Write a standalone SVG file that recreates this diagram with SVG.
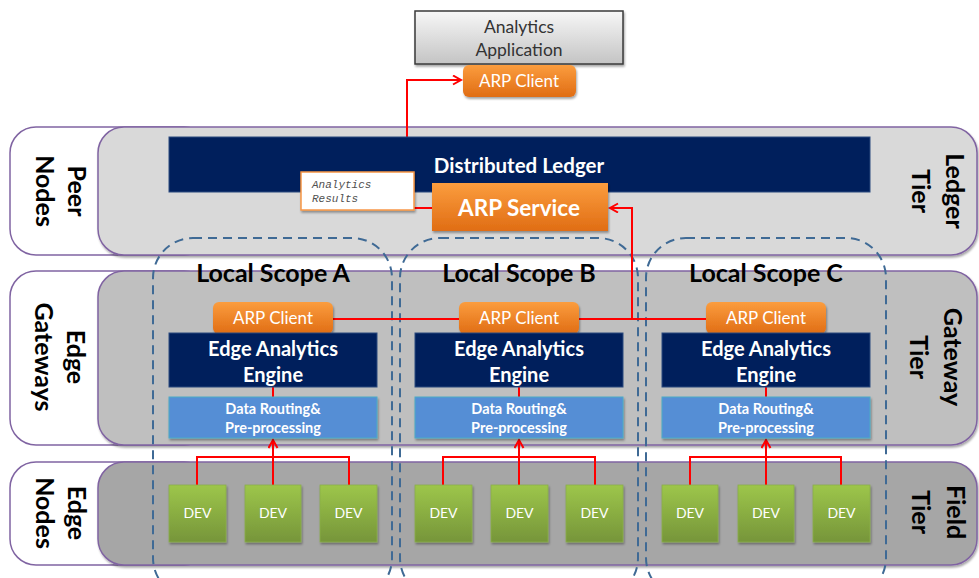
<svg xmlns="http://www.w3.org/2000/svg" width="979" height="578" viewBox="0 0 979 578">
<defs>
<linearGradient id="gOrange" x1="0" y1="0" x2="0" y2="1"><stop offset="0" stop-color="#fb9d3e"/><stop offset="1" stop-color="#e06d14"/></linearGradient>
<linearGradient id="gGreen" x1="0" y1="0" x2="0" y2="1"><stop offset="0" stop-color="#9dc64a"/><stop offset="1" stop-color="#76953a"/></linearGradient>
<linearGradient id="gGray" x1="0" y1="0" x2="0" y2="1"><stop offset="0" stop-color="#f7f7f7"/><stop offset="1" stop-color="#c4c4c4"/></linearGradient>
<filter id="sh" x="-10%" y="-10%" width="120%" height="130%"><feDropShadow dx="1" dy="2" stdDeviation="1.2" flood-color="#000" flood-opacity="0.35"/></filter>
<marker id="arr" markerUnits="userSpaceOnUse" markerWidth="12" markerHeight="12" refX="9" refY="5" orient="auto"><path d="M1,0.5 L9,5 L1,9.5" fill="none" stroke="#ff0000" stroke-width="2"/></marker>
</defs>
<style>
.outer{fill:#ffffff;stroke:#8064a2;stroke-width:1.5}
.tier{stroke:#8064a2;stroke-width:1.5}
.lbl{font-family:Lato,"Liberation Sans",sans-serif;font-weight:bold;font-size:25px;fill:#000;text-anchor:middle}
.scope{fill:none;stroke:#3f6a95;stroke-width:2;stroke-dasharray:9 6}
.scopeT{font-family:Lato,"Liberation Sans",sans-serif;font-weight:bold;font-size:25px;fill:#000;text-anchor:middle}
.navy{fill:#001f5c;stroke:#2a4a7f;stroke-width:1}
.wb{font-family:Lato,"Liberation Sans",sans-serif;font-weight:bold;fill:#fff;text-anchor:middle}
.wr{font-family:Lato,"Liberation Sans",sans-serif;fill:#fff;text-anchor:middle}
.orange{fill:url(#gOrange);filter:url(#sh)}
.route{fill:#558ed5;stroke:#4bacc6;stroke-width:1;filter:url(#sh)}
.dev{fill:url(#gGreen);stroke:#8aae4a;stroke-width:0.8;filter:url(#sh)}
.red{fill:none;stroke:#ff0000;stroke-width:2}
</style>

<!-- Tiers -->
<g id="ledger-tier">
<rect class="outer" x="10" y="127" width="200" height="128" rx="26"/>
<rect class="tier" x="98" y="127" width="879" height="128" rx="26" fill="#d9d9d9" filter="url(#sh)"/>
<g transform="translate(60,191) rotate(90)"><text class="lbl" x="0" y="-8">Peer</text><text class="lbl" x="0" y="24">Nodes</text></g>
<g transform="translate(937,191) rotate(90)"><text class="lbl" x="0" y="-9">Ledger</text><text class="lbl" x="0" y="25">Tier</text></g>
</g>
<g id="gateway-tier">
<rect class="outer" x="10" y="271" width="200" height="174" rx="26"/>
<rect class="tier" x="98" y="271" width="879" height="174" rx="26" fill="#bfbfbf" filter="url(#sh)"/>
<g transform="translate(59,357) rotate(90)"><text class="lbl" x="0" y="-8">Edge</text><text class="lbl" x="0" y="24">Gateways</text></g>
<g transform="translate(935,357) rotate(90)"><text class="lbl" x="0" y="-9">Gateway</text><text class="lbl" x="0" y="25">Tier</text></g>
</g>
<g id="field-tier">
<rect class="outer" x="10" y="462" width="200" height="103" rx="26"/>
<rect class="tier" x="98" y="462" width="879" height="103" rx="26" fill="#a6a6a6" filter="url(#sh)"/>
<g transform="translate(60,513) rotate(90)"><text class="lbl" x="0" y="-8">Edge</text><text class="lbl" x="0" y="24">Nodes</text></g>
<g transform="translate(937,512) rotate(90)"><text class="lbl" x="0" y="-10">Field</text><text class="lbl" x="0" y="25">Tier</text></g>
</g>

<!-- Local scopes -->
<g id="scope-a"><rect class="scope" x="153" y="238" width="239" height="360" rx="40"/><text class="scopeT" x="273" y="282">Local Scope A</text></g>
<g id="scope-b"><rect class="scope" x="400" y="238" width="238" height="360" rx="40"/><text class="scopeT" x="519" y="282">Local Scope B</text></g>
<g id="scope-c"><rect class="scope" x="646" y="238" width="240" height="360" rx="40"/><text class="scopeT" x="766" y="282">Local Scope C</text></g>

<!-- Connectors -->
<g id="connectors">
<path class="red" d="M407,172 V80 H461" marker-end="url(#arr)"/>
<path class="red" d="M414,208 H432"/>
<path class="red" d="M333,319 H706"/>
<path class="red" d="M632,319 V208 H610" marker-end="url(#arr)"/>
<path class="red" d="M273,387 V397 M519,387 V397 M766,387 V397"/>
<path class="red" d="M197,485 V457 H349 V485"/>
<path class="red" d="M273,485 V440" marker-end="url(#arr)"/>
<path class="red" d="M443,485 V457 H595 V485"/>
<path class="red" d="M519,485 V440" marker-end="url(#arr)"/>
<path class="red" d="M690,485 V457 H841 V485"/>
<path class="red" d="M766,485 V440" marker-end="url(#arr)"/>
</g>

<!-- Top -->
<g id="analytics-app">
<rect x="415" y="11" width="208" height="53" fill="url(#gGray)" stroke="#3a3a3a" stroke-width="1.5" filter="url(#sh)"/>
<text x="519" y="33" font-family="Lato,'Liberation Sans',sans-serif" font-size="17.5" fill="#333" text-anchor="middle">Analytics</text>
<text x="519" y="56" font-family="Lato,'Liberation Sans',sans-serif" font-size="17.5" fill="#333" text-anchor="middle">Application</text>
</g>
<g id="arp-client-top">
<rect class="orange" x="463" y="65" width="113" height="32" rx="6"/>
<text class="wr" x="519" y="87" font-size="17">ARP Client</text>
</g>

<!-- Ledger -->
<g id="distributed-ledger">
<rect class="navy" x="169" y="137" width="701" height="55"/>
<text class="wb" x="519" y="173" font-size="20.5">Distributed Ledger</text>
</g>
<g id="arp-service">
<rect class="orange" x="432" y="183" width="176" height="48"/>
<text class="wb" x="519" y="216" font-size="22.5">ARP Service</text>
</g>
<g id="analytics-results">
<rect x="301" y="172" width="113" height="38" fill="#fff" stroke="#f79646" stroke-width="1.5" filter="url(#sh)"/>
<text x="312" y="188" font-family="'Liberation Mono',monospace" font-style="italic" font-size="11" fill="#505050">Analytics</text>
<text x="312" y="202" font-family="'Liberation Mono',monospace" font-style="italic" font-size="11" fill="#505050">Results</text>
</g>

<!-- Gateway nodes -->
<g id="arp-client-a"><rect class="orange" x="213" y="302" width="120" height="32" rx="6"/><text class="wr" x="273" y="324" font-size="17">ARP Client</text></g>
<g id="arp-client-b"><rect class="orange" x="459" y="302" width="120" height="32" rx="6"/><text class="wr" x="519" y="324" font-size="17">ARP Client</text></g>
<g id="arp-client-c"><rect class="orange" x="706" y="302" width="120" height="32" rx="6"/><text class="wr" x="766" y="324" font-size="17">ARP Client</text></g>

<g id="engine-a"><rect class="navy" x="169" y="333" width="208" height="54"/><text class="wb" x="273" y="356" font-size="20">Edge Analytics</text><text class="wb" x="273" y="382" font-size="20">Engine</text></g>
<g id="engine-b"><rect class="navy" x="415" y="333" width="208" height="54"/><text class="wb" x="519" y="356" font-size="20">Edge Analytics</text><text class="wb" x="519" y="382" font-size="20">Engine</text></g>
<g id="engine-c"><rect class="navy" x="662" y="333" width="208" height="54"/><text class="wb" x="766" y="356" font-size="20">Edge Analytics</text><text class="wb" x="766" y="382" font-size="20">Engine</text></g>

<g id="routing-a"><rect class="route" x="169" y="397" width="208" height="41"/><text class="wb" x="273" y="414" font-size="14.5">Data Routing&amp;</text><text class="wb" x="273" y="433" font-size="14.5">Pre-processing</text></g>
<g id="routing-b"><rect class="route" x="415" y="397" width="208" height="41"/><text class="wb" x="519" y="414" font-size="14.5">Data Routing&amp;</text><text class="wb" x="519" y="433" font-size="14.5">Pre-processing</text></g>
<g id="routing-c"><rect class="route" x="662" y="397" width="208" height="41"/><text class="wb" x="766" y="414" font-size="14.5">Data Routing&amp;</text><text class="wb" x="766" y="433" font-size="14.5">Pre-processing</text></g>

<!-- Devices -->
<g id="dev-a1"><rect class="dev" x="169" y="485" width="57" height="57"/><text class="wr" x="197.5" y="518" font-size="14">DEV</text></g>
<g id="dev-a2"><rect class="dev" x="245" y="485" width="56" height="57"/><text class="wr" x="273" y="518" font-size="14">DEV</text></g>
<g id="dev-a3"><rect class="dev" x="320" y="485" width="57" height="57"/><text class="wr" x="348.5" y="518" font-size="14">DEV</text></g>
<g id="dev-b1"><rect class="dev" x="415" y="485" width="57" height="57"/><text class="wr" x="443.5" y="518" font-size="14">DEV</text></g>
<g id="dev-b2"><rect class="dev" x="491" y="485" width="57" height="57"/><text class="wr" x="519.5" y="518" font-size="14">DEV</text></g>
<g id="dev-b3"><rect class="dev" x="566" y="485" width="57" height="57"/><text class="wr" x="594.5" y="518" font-size="14">DEV</text></g>
<g id="dev-c1"><rect class="dev" x="662" y="485" width="56" height="57"/><text class="wr" x="690" y="518" font-size="14">DEV</text></g>
<g id="dev-c2"><rect class="dev" x="738" y="485" width="56" height="57"/><text class="wr" x="766" y="518" font-size="14">DEV</text></g>
<g id="dev-c3"><rect class="dev" x="813" y="485" width="57" height="57"/><text class="wr" x="841.5" y="518" font-size="14">DEV</text></g>
</svg>
